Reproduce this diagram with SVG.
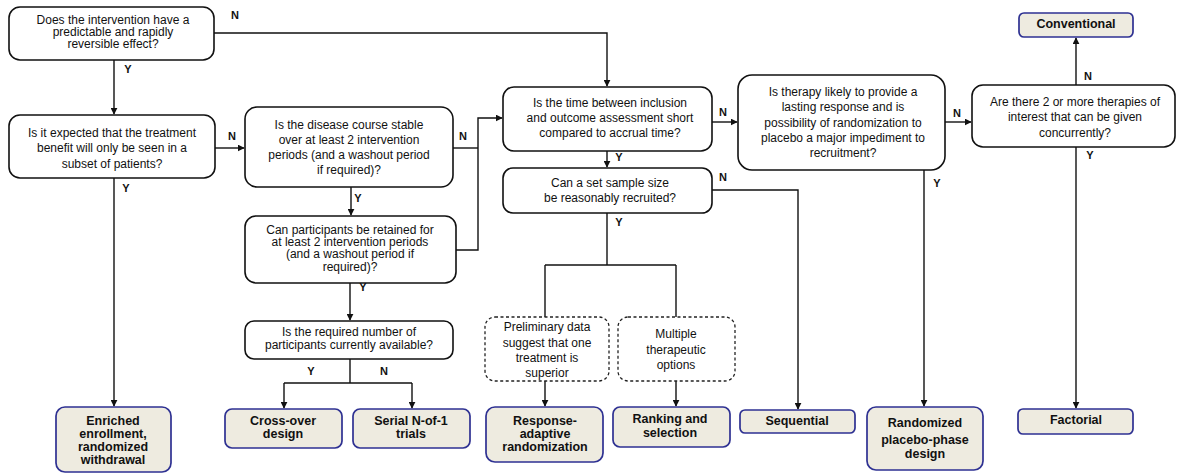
<svg xmlns="http://www.w3.org/2000/svg" width="1178" height="474" viewBox="0 0 1178 474">
<defs>
<marker id="ah" viewBox="0 0 10 10" refX="9" refY="5" markerWidth="7" markerHeight="7" orient="auto" markerUnits="userSpaceOnUse"><path d="M0,0 L10,5 L0,10 z" fill="#111"/></marker>
</defs>
<style>
text{font-family:"Liberation Sans",Arial,sans-serif;fill:#111;text-anchor:middle}
.q{fill:#fff;stroke:#111;stroke-width:1.6}
.d{fill:#fff;stroke:#222;stroke-width:1.3;stroke-dasharray:3 2.5}
.r{fill:#eeebe0;stroke:#2e3192;stroke-width:1.7}
.qt{font-size:12px}
.rt{font-size:12.5px;font-weight:bold}
.lb{font-size:11px;font-weight:bold}
.c{fill:none;stroke:#111;stroke-width:1.4}
</style>
<rect width="1178" height="474" fill="#fff"/>
<g id="connectors">
<path class="c" d="M114,60 V114" marker-end="url(#ah)"/>
<path class="c" d="M213,33 H607 V86" marker-end="url(#ah)"/>
<path class="c" d="M114,178 V406" marker-end="url(#ah)"/>
<path class="c" d="M215,148 H244" marker-end="url(#ah)"/>
<path class="c" d="M453,148 H478"/>
<path class="c" d="M456,250 H478 V118 H502" marker-end="url(#ah)"/>
<path class="c" d="M351,187 V215" marker-end="url(#ah)"/>
<path class="c" d="M350,283 V320" marker-end="url(#ah)"/>
<path class="c" d="M350,359 V383"/>
<path class="c" d="M284,383 H412"/>
<path class="c" d="M284,383 V408" marker-end="url(#ah)"/>
<path class="c" d="M412,383 V408" marker-end="url(#ah)"/>
<path class="c" d="M607,151 V167" marker-end="url(#ah)"/>
<path class="c" d="M712,122 H737" marker-end="url(#ah)"/>
<path class="c" d="M712,190 H798 V409" marker-end="url(#ah)"/>
<path class="c" d="M607,213 V265"/>
<path class="c" d="M545,265 H676"/>
<path class="c" d="M545,265 V317"/>
<path class="c" d="M676,265 V317"/>
<path class="c" d="M545,381 V406" marker-end="url(#ah)"/>
<path class="c" d="M676,381 V406" marker-end="url(#ah)"/>
<path class="c" d="M945,122 H971" marker-end="url(#ah)"/>
<path class="c" d="M924,170 V406" marker-end="url(#ah)"/>
<path class="c" d="M1076,85 V38" marker-end="url(#ah)"/>
<path class="c" d="M1076,147 V408" marker-end="url(#ah)"/>
<text class="lb" x="235" y="19">N</text>
<text class="lb" x="128" y="73">Y</text>
<text class="lb" x="232" y="140">N</text>
<text class="lb" x="126" y="192">Y</text>
<text class="lb" x="463" y="140">N</text>
<text class="lb" x="358" y="202">Y</text>
<text class="lb" x="363" y="291">Y</text>
<text class="lb" x="311" y="375">Y</text>
<text class="lb" x="384" y="375">N</text>
<text class="lb" x="723" y="116">N</text>
<text class="lb" x="619" y="161">Y</text>
<text class="lb" x="723" y="181">N</text>
<text class="lb" x="619" y="226">Y</text>
<text class="lb" x="957" y="117">N</text>
<text class="lb" x="937" y="187">Y</text>
<text class="lb" x="1088" y="80">N</text>
<text class="lb" x="1090" y="159">Y</text>
</g>
<g id="q1"><rect class="q" x="9" y="7" width="205" height="53" rx="11"/>
<text class="qt" x="113" y="24">Does the intervention have a</text>
<text class="qt" x="113" y="36">predictable and rapidly</text>
<text class="qt" x="113" y="48">reversible effect?</text></g>
<g id="q2"><rect class="q" x="9" y="115" width="206" height="63" rx="11"/>
<text class="qt" x="112" y="137">Is it expected that the treatment</text>
<text class="qt" x="112" y="152">benefit will only be seen in a</text>
<text class="qt" x="112" y="168">subset of patients?</text></g>
<g id="q3"><rect class="q" x="245" y="107" width="208" height="80" rx="12"/>
<text class="qt" x="349" y="129">Is the disease course stable</text>
<text class="qt" x="349" y="144">over at least 2 intervention</text>
<text class="qt" x="349" y="159">periods (and a washout period</text>
<text class="qt" x="349" y="174">if required)?</text></g>
<g id="q4"><rect class="q" x="245" y="216" width="211" height="67" rx="11"/>
<text class="qt" x="350" y="234">Can participants be retained for</text>
<text class="qt" x="350" y="246">at least 2 intervention periods</text>
<text class="qt" x="350" y="258">(and a washout period if</text>
<text class="qt" x="350" y="271">required)?</text></g>
<g id="q5"><rect class="q" x="245" y="321" width="208" height="38" rx="9"/>
<text class="qt" x="349" y="336">Is the required number of</text>
<text class="qt" x="349" y="349">participants currently available?</text></g>
<g id="q6"><rect class="q" x="503" y="87" width="209" height="64" rx="11"/>
<text class="qt" x="610" y="107">Is the time between inclusion</text>
<text class="qt" x="610" y="122">and outcome assessment short</text>
<text class="qt" x="610" y="137">compared to accrual time?</text></g>
<g id="q7"><rect class="q" x="503" y="168" width="209" height="45" rx="10"/>
<text class="qt" x="610" y="187">Can a set sample size</text>
<text class="qt" x="610" y="202">be reasonably recruited?</text></g>
<g id="q8"><rect class="q" x="738" y="75" width="207" height="95" rx="14"/>
<text class="qt" x="843" y="96">Is therapy likely to provide a</text>
<text class="qt" x="843" y="111">lasting response and is</text>
<text class="qt" x="843" y="127">possibility of randomization to</text>
<text class="qt" x="843" y="142">placebo a major impediment to</text>
<text class="qt" x="843" y="157">recruitment?</text></g>
<g id="q9"><rect class="q" x="972" y="85" width="203" height="62" rx="11"/>
<text class="qt" x="1075" y="106">Are there 2 or more therapies of</text>
<text class="qt" x="1075" y="121">interest that can be given</text>
<text class="qt" x="1075" y="137">concurrently?</text></g>
<g id="c1"><rect class="d" x="485" y="317" width="124" height="64" rx="10"/>
<text class="qt" x="547" y="331">Preliminary data</text>
<text class="qt" x="547" y="347">suggest that one</text>
<text class="qt" x="547" y="362">treatment is</text>
<text class="qt" x="547" y="377">superior</text></g>
<g id="c2"><rect class="d" x="618" y="317" width="117" height="64" rx="10"/>
<text class="qt" x="676" y="338">Multiple</text>
<text class="qt" x="676" y="354">therapeutic</text>
<text class="qt" x="676" y="369">options</text></g>
<g id="conventional"><rect class="r" x="1019" y="13" width="114" height="24" rx="5"/>
<text class="rt" x="1076" y="28">Conventional</text></g>
<g id="enriched"><rect class="r" x="56" y="407" width="115" height="65" rx="9"/>
<text class="rt" x="113" y="425">Enriched</text>
<text class="rt" x="113" y="438">enrollment,</text>
<text class="rt" x="113" y="451">randomized</text>
<text class="rt" x="113" y="464">withdrawal</text></g>
<g id="crossover"><rect class="r" x="225" y="409" width="117" height="39" rx="7"/>
<text class="rt" x="283" y="425">Cross-over</text>
<text class="rt" x="283" y="438">design</text></g>
<g id="serial"><rect class="r" x="353" y="409" width="117" height="39" rx="7"/>
<text class="rt" x="411" y="425">Serial N-of-1</text>
<text class="rt" x="411" y="438">trials</text></g>
<g id="response"><rect class="r" x="486" y="407" width="117" height="55" rx="9"/>
<text class="rt" x="545" y="425">Response-</text>
<text class="rt" x="545" y="438">adaptive</text>
<text class="rt" x="545" y="451">randomization</text></g>
<g id="ranking"><rect class="r" x="613" y="407" width="117" height="40" rx="7"/>
<text class="rt" x="670" y="423">Ranking and</text>
<text class="rt" x="670" y="437">selection</text></g>
<g id="sequential"><rect class="r" x="740" y="410" width="115" height="23" rx="5"/>
<text class="rt" x="797" y="425">Sequential</text></g>
<g id="placebo"><rect class="r" x="867" y="407" width="116" height="63" rx="9"/>
<text class="rt" x="925" y="427">Randomized</text>
<text class="rt" x="925" y="444">placebo-phase</text>
<text class="rt" x="925" y="458">design</text></g>
<g id="factorial"><rect class="r" x="1018" y="409" width="115" height="25" rx="5"/>
<text class="rt" x="1076" y="424">Factorial</text></g>
</svg>
